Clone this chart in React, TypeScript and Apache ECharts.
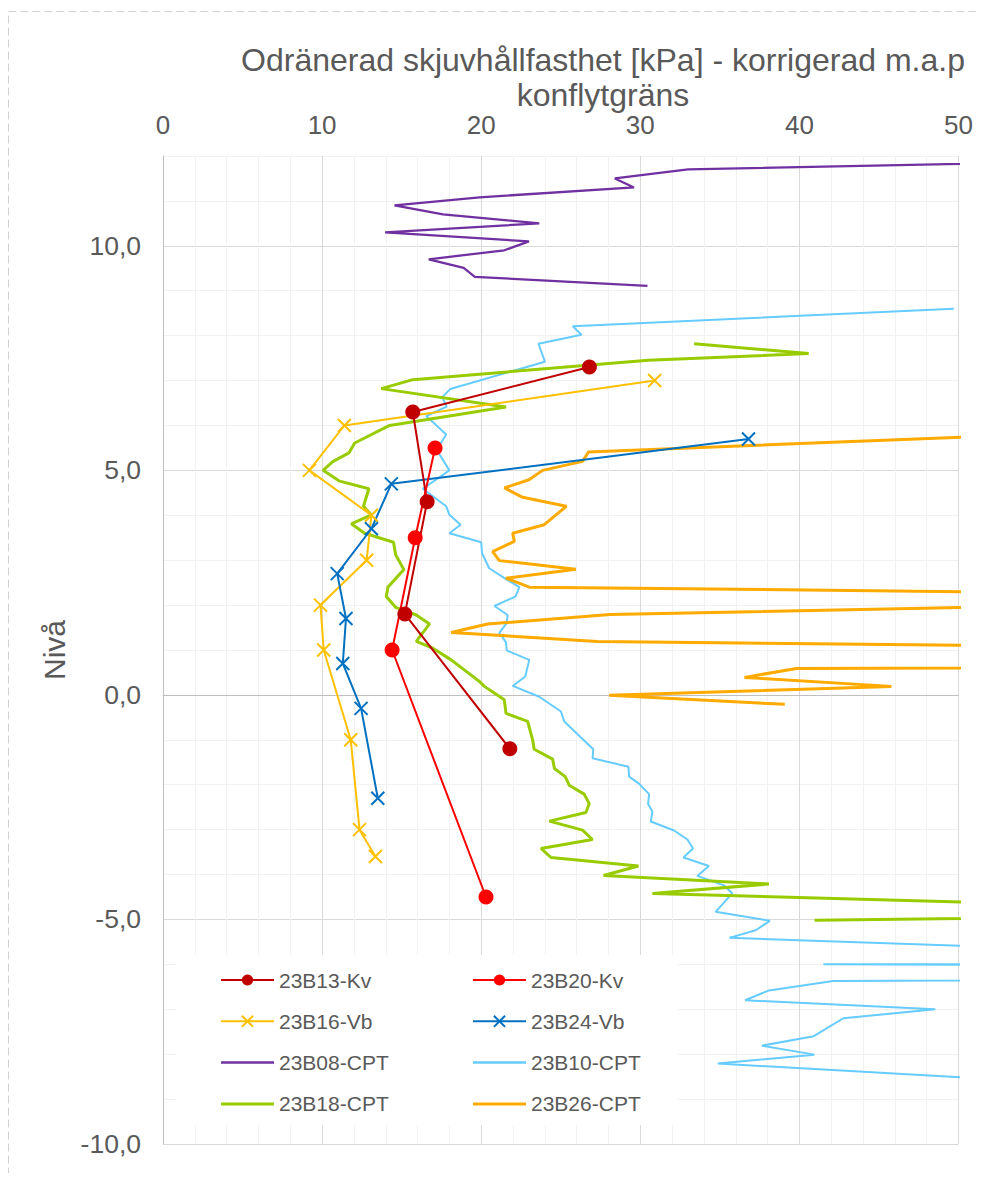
import React, { useEffect, useRef } from 'react';
import * as echarts from 'echarts';

const FONT = "'Liberation Sans', Arial, Helvetica, sans-serif";
const TEXT = '#595959';

const titleLines = ['Odränerad skjuvhållfasthet [kPa] - korrigerad m.a.p', 'konflytgräns'];
const yName = 'Nivå';
const xTickLabels = [0, 10, 20, 30, 40, 50];
const yTickLabels = [-10, -5, 0, 5, 10];

const names = ['23B13-Kv', '23B20-Kv', '23B16-Vb', '23B24-Vb', '23B08-CPT', '23B10-CPT', '23B18-CPT', '23B26-CPT'];

const kv13: number[][] = [[26.8, 7.3], [15.7, 6.3], [16.6, 4.3], [15.2, 1.8], [21.8, -1.2]];
const kv20: number[][] = [[17.1, 5.5], [15.85, 3.5], [14.4, 1.0], [20.3, -4.5]];
const vb16: number[][] = [[30.9, 7.0], [11.4, 6.0], [9.2, 5.0], [13.1, 4.0], [12.8, 3.0], [9.9, 2.0], [10.1, 1.0], [11.8, -1.0], [12.35, -3.0], [13.35, -3.6]];
const vb24: number[][] = [[36.8, 5.7], [14.35, 4.7], [13.1, 3.7], [10.95, 2.7], [11.5, 1.7], [11.3, 0.7], [12.45, -0.3], [13.5, -2.3]];

const cpt08: number[][] = [[58, 11.88], [33.0, 11.7], [28.4, 11.5], [29.6, 11.3], [19.9, 11.08], [14.55, 10.9], [17.6, 10.7], [23.65, 10.5], [13.96, 10.3], [23.0, 10.1], [21.45, 9.9], [16.7, 9.7], [18.9, 9.51], [19.6, 9.31], [30.45, 9.11]];

const cpt10: number[][] = [[49.7, 8.6], [25.75, 8.21], [26.3, 8.02], [23.6, 7.82], [24.0, 7.42], [18.05, 6.81], [17.55, 6.63], [17.83, 6.42], [16.55, 6.21], [17.8, 5.8], [17.2, 5.46], [18.0, 5.0], [16.33, 4.59], [17.8, 4.2], [18.0, 4.01], [18.7, 3.79], [18.0, 3.6], [20.0, 3.4], [20.05, 3.16], [20.5, 2.82], [21.56, 2.58], [22.4, 2.4], [22.15, 2.19], [20.83, 1.98], [21.66, 1.78], [21.6, 1.6], [21.14, 1.38], [21.56, 1.17], [21.6, 0.99], [23.02, 0.78], [22.77, 0.41], [21.98, 0.2], [23.65, -0.04], [25.01, -0.37], [25.22, -0.59], [27.04, -1.21], [27.0, -1.41], [29.25, -1.6], [29.3, -1.82], [29.93, -1.98], [30.55, -2.21], [30.49, -2.43], [30.76, -2.6], [30.66, -2.82], [32.12, -3.02], [32.96, -3.22], [33.31, -3.42], [32.71, -3.62], [34.31, -3.81], [33.58, -4.03], [35.25, -4.24], [35.78, -4.42], [34.73, -4.83], [38.14, -5.03], [37.25, -5.24], [35.6, -5.41], [53, -5.62], [200, -5.8], [41.5, -6.0], [150, -6.2], [42.13, -6.37], [38.08, -6.58], [36.59, -6.8], [48.54, -7.0], [42.76, -7.2], [40.9, -7.6], [37.64, -7.81], [40.94, -8.01], [34.87, -8.21], [54.5, -8.6]];

const cpt18: number[][] = [[33.38, 7.82], [40.58, 7.6], [30.5, 7.45], [15.7, 7.02], [13.72, 6.82], [21.56, 6.41], [14.24, 6.0], [12.05, 5.61], [11.69, 5.39], [10.69, 5.2], [10.06, 5.0], [11.1, 4.76], [12.94, 4.59], [12.6, 4.2], [13.09, 4.01], [11.84, 3.81], [12.67, 3.6], [14.49, 3.4], [14.62, 3.12], [15.14, 2.79], [14.14, 2.4], [14.03, 2.19], [14.62, 1.95], [15.92, 1.78], [16.75, 1.58], [15.92, 1.19], [16.96, 1.04], [18.11, 0.78], [19.89, 0.3], [20.2, 0.19], [21.45, -0.11], [21.56, -0.41], [22.92, -0.59], [23.23, -1.0], [23.33, -1.21], [24.49, -1.43], [24.6, -1.64], [25.28, -1.82], [25.53, -2.01], [26.47, -2.21], [26.79, -2.42], [26.58, -2.62], [24.28, -2.81], [26.37, -3.01], [26.99, -3.22], [23.76, -3.42], [24.38, -3.62], [29.88, -3.81], [27.69, -4.02], [38.08, -4.21], [30.76, -4.42], [52, -4.63], [86, -4.82], [40.95, -5.02]];

const cpt26: number[][] = [[54.5, 5.8], [26.74, 5.41], [26.37, 5.2], [23.86, 5.0], [23.0, 4.79], [21.46, 4.61], [22.6, 4.4], [25.35, 4.2], [23.96, 3.79], [21.98, 3.6], [22.08, 3.42], [20.72, 3.19], [21.14, 2.99], [25.95, 2.8], [21.56, 2.6], [23.02, 2.4], [77, 2.2], [57.3, 2.0], [28.1, 1.79], [20.4, 1.58], [18.11, 1.39], [27.3, 1.19], [78, 1.0], [300, 0.8], [39.82, 0.59], [36.55, 0.39], [45.78, 0.19], [28.04, -0.01], [39.08, -0.21]];

const colors: Record<string, string> = {
  '23B13-Kv': '#C00000',
  '23B20-Kv': '#FF0000',
  '23B16-Vb': '#FFC000',
  '23B24-Vb': '#0070C0',
  '23B08-CPT': '#7030A0',
  '23B10-CPT': '#66CCFF',
  '23B18-CPT': '#99CC00',
  '23B26-CPT': '#FFAA00',
};

const X_SYMBOL = 'path://M0,0L10,10M10,0L0,10';

function cptSeries(name: string, data: number[][], width: number) {
  const c = colors[name];
  return {
    type: 'line', name, data, symbol: 'none', showSymbol: false,
    lineStyle: { color: c, width }, itemStyle: { color: c },
    z: 2, clip: true, silent: true, emphasis: { disabled: true },
  };
}

function markSeries(name: string, data: number[][], symbol: string, size: number) {
  const c = colors[name];
  const isX = symbol === X_SYMBOL;
  return {
    type: 'line', name, data, symbol, symbolSize: size, showSymbol: true,
    lineStyle: { color: c, width: 2 },
    itemStyle: { color: c, borderColor: c, borderWidth: isX ? 2 : 0 },
    z: 3, clip: true, silent: true, emphasis: { disabled: true },
  };
}

const lineIcon = (h: number) => `path://M0,0H53V${h}H0Z`;

export default function App() {
  const ref = useRef<HTMLDivElement>(null);
  useEffect(() => {
    const el = ref.current!;
    const chart = echarts.init(el, null, { renderer: 'svg' });
    const gridColors = ['#D9D9D9', '#F2F2F2', '#F2F2F2', '#F2F2F2', '#F2F2F2'];
    const legendText = { fontSize: 21, color: TEXT, fontFamily: FONT, lineHeight: 24 };
    const legendBase = {
      orient: 'vertical', itemWidth: 53, itemHeight: 14, itemGap: 17.3,
      selectedMode: false, padding: 0, textStyle: legendText, top: 960,
    };
    chart.setOption({
      animation: false,
      textStyle: { fontFamily: FONT },
      grid: { left: 155, right: 16, top: 148, bottom: 29 },
      xAxis: {
        type: 'value', position: 'top', min: 0, max: 50, interval: 2,
        axisLine: { show: true, lineStyle: { color: '#BFBFBF', width: 1 } },
        axisTick: { show: false },
        axisLabel: {
          interval: 0, margin: 18, fontSize: 26, color: TEXT, fontFamily: FONT,
          formatter: (v: number) => (xTickLabels.indexOf(v) >= 0 ? String(v) : ''),
        },
        splitLine: { show: true, lineStyle: { color: gridColors, width: 1 } },
      },
      yAxis: {
        type: 'value', min: -10, max: 12, interval: 1,
        name: yName, nameLocation: 'middle', nameGap: 94,
        nameTextStyle: { fontSize: 30, color: TEXT, fontFamily: FONT },
        axisLine: { show: true, lineStyle: { color: '#BFBFBF', width: 1 } },
        axisTick: { show: false },
        axisLabel: {
          interval: 0, margin: 22, fontSize: 26.5, color: TEXT, fontFamily: FONT,
          formatter: (v: number) => (yTickLabels.indexOf(v) >= 0 ? v.toFixed(1).replace('.', ',') : ''),
        },
        splitLine: { show: true, lineStyle: { color: gridColors, width: 1 } },
      },
      legend: [
        {
          ...legendBase, left: 212,
          data: [
            { name: names[0] },
            { name: names[2] },
            { name: names[4], icon: lineIcon(2.5) },
            { name: names[6], icon: lineIcon(3) },
          ],
        },
        {
          ...legendBase, left: 464,
          data: [
            { name: names[1] },
            { name: names[3] },
            { name: names[5], icon: lineIcon(2.5) },
            { name: names[7], icon: lineIcon(3) },
          ],
        },
      ],
      graphic: [
        {
          type: 'rect', z: 0, silent: true,
          shape: { x: 0.5, y: 3.5, width: 3000, height: 3000 },
          style: { fill: 'none', stroke: '#D0D0D0', lineWidth: 1, lineDash: [8, 4] },
        },
        {
          type: 'rect', z: 1, silent: true,
          shape: { x: 168, y: 947, width: 501, height: 170 },
          style: { fill: '#FFFFFF' },
        },
        {
          type: 'text', x: 595, y: 52, z: 5, silent: true,
          style: { text: titleLines[0], fontSize: 32, fill: TEXT, fontFamily: FONT, align: 'center', verticalAlign: 'middle' },
        },
        {
          type: 'text', x: 595, y: 86.5, z: 5, silent: true,
          style: { text: titleLines[1], fontSize: 32, fill: TEXT, fontFamily: FONT, align: 'center', verticalAlign: 'middle' },
        },
      ],
      series: [
        cptSeries(names[4], cpt08, 2.25),
        cptSeries(names[5], cpt10, 2),
        cptSeries(names[6], cpt18, 3),
        cptSeries(names[7], cpt26, 3),
        markSeries(names[2], vb16, X_SYMBOL, 13),
        markSeries(names[3], vb24, X_SYMBOL, 13),
        markSeries(names[0], kv13, 'circle', 15),
        markSeries(names[1], kv20, 'circle', 15),
      ],
    });
    return () => chart.dispose();
  }, []);
  return <div ref={ref} style={{ width: 968, height: 1165 }} />;
}
